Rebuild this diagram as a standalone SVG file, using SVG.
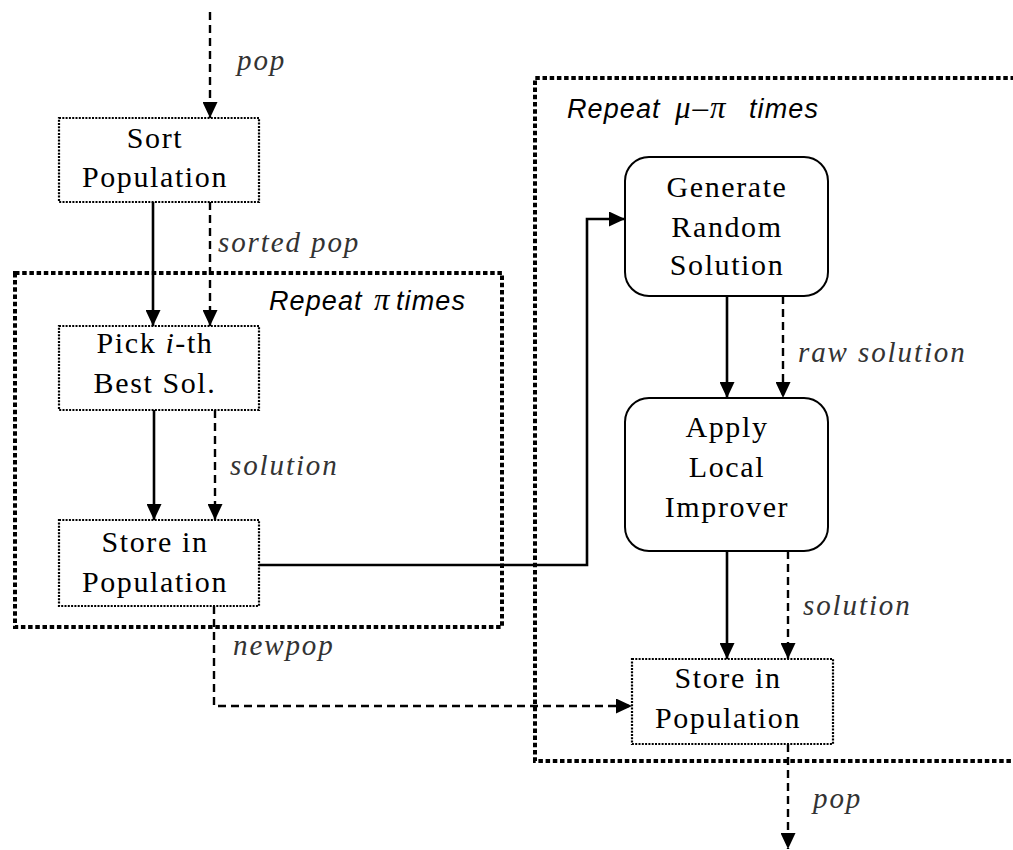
<svg xmlns="http://www.w3.org/2000/svg" width="1013" height="850" viewBox="0 0 1013 850">
<style>
.node{font-family:Liberation Serif,serif;font-size:30px;letter-spacing:1.6px;fill:#000;text-anchor:middle}
.lbl{font-family:Liberation Serif,serif;font-style:italic;font-size:29px;letter-spacing:1.9px;fill:#333}
.rep{font-family:Liberation Sans,sans-serif;font-style:italic;font-size:27px;letter-spacing:1.1px;fill:#000}
.greek{font-family:Liberation Serif,serif;font-style:italic;font-size:31px;letter-spacing:2px;fill:#000}
.dbox{fill:#fff;stroke:#000;stroke-width:2.2;stroke-dasharray:2 1.3}
.rbox{fill:#fff;stroke:#000;stroke-width:2}
.frame{fill:none;stroke:#000;stroke-width:4;stroke-dasharray:4.5 2.7}
.solid{fill:none;stroke:#000;stroke-width:2.6}
.dash{fill:none;stroke:#000;stroke-width:2.4;stroke-dasharray:8 5}
</style>
<defs>
<marker id="ah" viewBox="0 0 16 15" markerWidth="16" markerHeight="15" refX="16" refY="7.5" orient="auto" markerUnits="userSpaceOnUse">
<path d="M0,0 L16,7.5 L0,15 Z" fill="#000"/>
</marker>
</defs>
<rect width="1013" height="850" fill="#fff"/>

<g id="frames">
<rect class="frame" x="15" y="273" width="487" height="354"/>
<path class="frame" d="M1015,78 H535 V761 H1015"/>
<text class="rep" x="269" y="310">Repeat</text>
<text class="greek" x="374" y="310">π</text>
<text class="rep" x="396" y="310">times</text>
<text class="rep" x="567" y="118">Repeat</text>
<text class="greek" x="675" y="118">μ–π</text>
<text class="rep" x="749" y="118">times</text>
</g>

<g id="connectors">
<line class="dash" x1="210" y1="12" x2="210" y2="118" marker-end="url(#ah)"/>
<line class="solid" x1="153" y1="202" x2="153" y2="326" marker-end="url(#ah)"/>
<line class="dash" x1="210" y1="202" x2="210" y2="326" marker-end="url(#ah)"/>
<line class="solid" x1="154" y1="410" x2="154" y2="520" marker-end="url(#ah)"/>
<line class="dash" x1="215" y1="410" x2="215" y2="520" marker-end="url(#ah)"/>
<path class="solid" d="M259,565 H587 V219 H625" marker-end="url(#ah)"/>
<line class="solid" x1="727" y1="296" x2="727" y2="398" marker-end="url(#ah)"/>
<line class="dash" x1="783" y1="296" x2="783" y2="398" marker-end="url(#ah)"/>
<line class="solid" x1="727" y1="551" x2="727" y2="659" marker-end="url(#ah)"/>
<line class="dash" x1="788" y1="551" x2="788" y2="659" marker-end="url(#ah)"/>
<path class="dash" d="M214,606 V706 H632" marker-end="url(#ah)"/>
<line class="dash" x1="788" y1="744" x2="788" y2="849" marker-end="url(#ah)"/>
<text class="lbl" x="237" y="70">pop</text>
<text class="lbl" x="218" y="252">sorted pop</text>
<text class="lbl" x="230" y="475">solution</text>
<text class="lbl" x="233" y="655">newpop</text>
<text class="lbl" x="798" y="362">raw solution</text>
<text class="lbl" x="803" y="615">solution</text>
<text class="lbl" x="813" y="808">pop</text>
</g>

<g id="sort">
<rect class="dbox" x="59" y="118" width="200" height="84"/>
<text class="node" x="155" y="148">Sort</text>
<text class="node" x="155" y="187">Population</text>
</g>

<g id="pick">
<rect class="dbox" x="59" y="326" width="200" height="84"/>
<text class="node" x="155" y="353">Pick <tspan font-style="italic">i</tspan>-th</text>
<text class="node" x="155" y="393">Best Sol.</text>
</g>

<g id="store1">
<rect class="dbox" x="59" y="520" width="200" height="86"/>
<text class="node" x="155" y="552">Store in</text>
<text class="node" x="155" y="592">Population</text>
</g>

<g id="generate">
<rect class="rbox" x="625" y="157" width="203" height="139" rx="24" ry="24"/>
<text class="node" x="727" y="197">Generate</text>
<text class="node" x="727" y="237">Random</text>
<text class="node" x="727" y="275">Solution</text>
</g>

<g id="apply">
<rect class="rbox" x="625" y="398" width="203" height="153" rx="24" ry="24"/>
<text class="node" x="727" y="437">Apply</text>
<text class="node" x="727" y="477">Local</text>
<text class="node" x="727" y="517">Improver</text>
</g>

<g id="store2">
<rect class="dbox" x="632" y="659" width="201" height="85"/>
<text class="node" x="728" y="688">Store in</text>
<text class="node" x="728" y="728">Population</text>
</g>
</svg>
